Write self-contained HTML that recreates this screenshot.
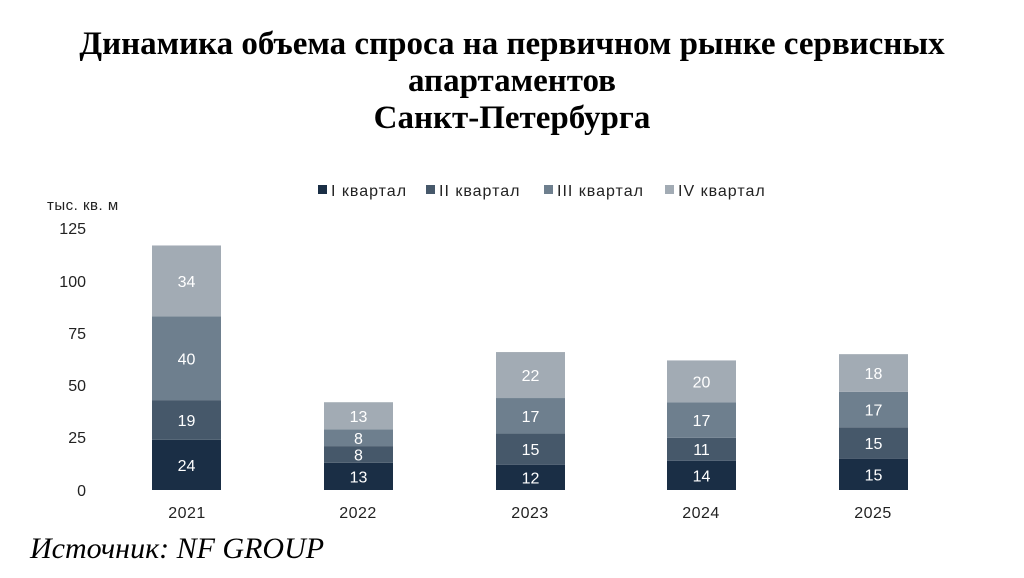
<!DOCTYPE html>
<html><head><meta charset="utf-8"><style>
body{margin:0;background:#fff;width:1024px;height:578px;overflow:hidden}
.t{position:absolute;left:0;width:1024px;text-align:center;font-family:"Liberation Serif",serif;font-weight:bold;font-size:33px;line-height:37px;color:#000}
</style></head><body>
<div class="t" style="top:26px">Динамика объема спроса на первичном рынке сервисных<br>апартаментов<br>Санкт-Петербурга</div>
<svg width="1024" height="578" style="position:absolute;left:0;top:0" font-family="Liberation Sans, sans-serif">
<g font-size="16" fill="#222" text-anchor="end">
<text x="86" y="234">125</text><text x="86" y="287">100</text><text x="86" y="339">75</text>
<text x="86" y="391">50</text><text x="86" y="443">25</text><text x="86" y="496">0</text>
</g>
<text x="47" y="210" font-size="15" fill="#222" letter-spacing="0.5">тыс. кв. м</text>
<g font-size="16" fill="#222" letter-spacing="1">
<rect x="318" y="185" width="9" height="9" fill="#1a2e45"/><text x="331" y="196">I квартал</text>
<rect x="426" y="185" width="9" height="9" fill="#46586a"/><text x="439" y="196">II квартал</text>
<rect x="544" y="185" width="9" height="9" fill="#6e7f8e"/><text x="557" y="196">III квартал</text>
<rect x="665" y="185" width="9" height="9" fill="#a2abb4"/><text x="678" y="196">IV квартал</text>
</g>
<g id="bars" font-size="16" fill="#fff" text-anchor="middle"></g>
<g font-size="16" fill="#222" text-anchor="middle" letter-spacing="0.5">
<text x="187" y="518">2021</text><text x="358" y="518">2022</text><text x="530" y="518">2023</text><text x="701" y="518">2024</text><text x="873" y="518">2025</text>
</g>
<text x="30" y="558" font-family="Liberation Serif, serif" font-style="italic" font-size="30" fill="#000">Источник: NF GROUP</text>
</svg>
<script>
var d=[[152,[24,19,40,34]],[324,[13,8,8,13]],[496,[12,15,17,22]],[667,[14,11,17,20]],[839,[15,15,17,18]]];
var c=["#1a2e45","#46586a","#6e7f8e","#a2abb4"],k=2.09,s="";
d.forEach(function(b){var y=490;b[1].forEach(function(v,i){var h=v*k;y-=h;
s+='<rect x="'+b[0]+'" y="'+y+'" width="69" height="'+h+'" fill="'+c[i]+'"/>';
s+='<text x="'+(b[0]+34.5)+'" y="'+(y+h/2+6)+'" fill="#fff">'+v+'</text>';});});
document.getElementById("bars").innerHTML=s;
</script>
</body></html>
